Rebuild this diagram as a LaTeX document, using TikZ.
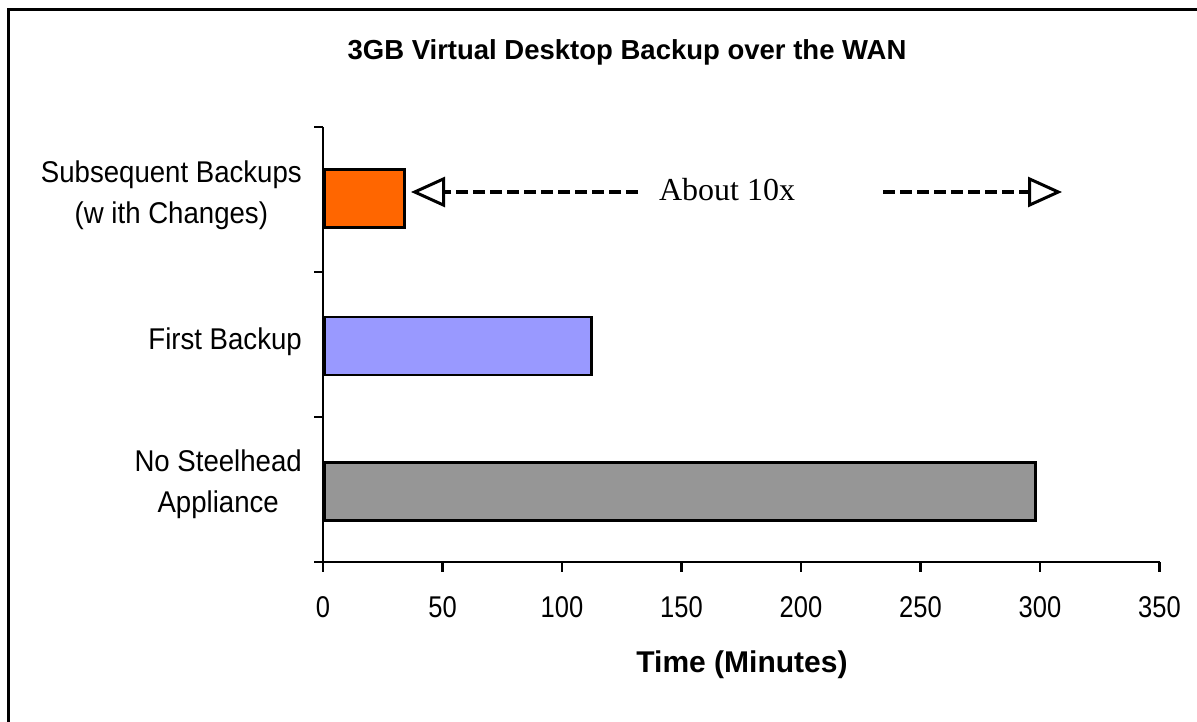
\documentclass[tikz,border=0pt]{standalone}
\usepackage{fontspec}
\setmainfont{Liberation Sans}
\newfontfamily\timesf{Liberation Serif}
\usetikzlibrary{arrows.meta}
\newcommand{\sxc}[1]{\scalebox{0.92}[1]{#1}}
\newcommand{\sxt}[1]{\scalebox{0.85}[1]{#1}}
\tikzset{
  bar/.style={draw=black, line width=2.6pt, anchor=west, minimum height=58pt, inner sep=0pt},
  axisline/.style={line width=2.2pt, black},
  catlabel/.style={anchor=east, align=center, inner sep=0pt, font=\fontsize{30}{41}\selectfont},
  ticklabel/.style={anchor=center, inner sep=0pt, font=\fontsize{30}{36}\selectfont},
  dasharrow/.style={line width=3.6pt, dash pattern=on 12pt off 5pt, -{Triangle[open, length=34pt, width=30pt, line width=3pt]}},
}
\begin{document}
\begin{tikzpicture}[x=1pt, y=-1pt]
\useasboundingbox (0,0) rectangle (1197,722);
% frame (top and left edges visible)
\draw[line width=3pt] (8.5,722) -- (8.5,9.5) -- (1197,9.5);
% title
\node[font=\fontsize{27.5}{30}\bfseries\selectfont, inner sep=0pt] (title) at (627,52) {3GB Virtual Desktop Backup over the WAN};
% axes
\coordinate (o) at (323,562);
\coordinate (ytop) at (323,127);
\coordinate (xend) at (1159.5,562);
\draw[axisline] (ytop) -- (o) -- (xend);
% y ticks
\foreach \yy in {127,272,417,562} \draw[axisline] (314,\yy) -- (323,\yy);
% x ticks and labels
\foreach \k/\lab in {0/0,1/50,2/100,3/150,4/200,5/250,6/300,7/350} {
  \draw[axisline] (323+\k*119.5,562) -- (323+\k*119.5,572);
  \node[ticklabel] (t\k) at (323+\k*119.5,607) {\sxt{\lab}};
}
% bars
\node[bar, fill={rgb,255:red,255;green,102;blue,0}, minimum width=80pt] (b1) at (323,198.5) {};
\node[bar, fill={rgb,255:red,153;green,153;blue,255}, minimum width=267pt] (b2) at (323,346) {};
\node[bar, fill={rgb,255:red,150;green,150;blue,150}, minimum width=711pt] (b3) at (323,491.5) {};
% category labels
\node[catlabel] (c1) at (302,195) {\sxc{Subsequent Backups}\\\sxc{(w ith Changes)}};
\node[catlabel] (c2) at (302,342) {\sxc{First Backup}};
\node[catlabel] (c3) at (302,484) {\sxc{No Steelhead}\\\sxc{Appliance}};
% axis title
\node[font=\fontsize{30}{36}\bfseries\selectfont, inner sep=0pt] (xt) at (742,665) {Time (Minutes)};
% about 10x arrow
\node[font=\timesf\fontsize{32}{36}\selectfont, inner sep=0pt] (lbl) at (727,190) {About 10x};
\coordinate (ld) at (638,192);
\coordinate (la) at (411,192);
\coordinate (rd) at (883,192);
\coordinate (ra) at (1062,192);
\draw[dasharrow] (ld) -- (la);
\draw[dasharrow] (rd) -- (ra);
\end{tikzpicture}
\end{document}
